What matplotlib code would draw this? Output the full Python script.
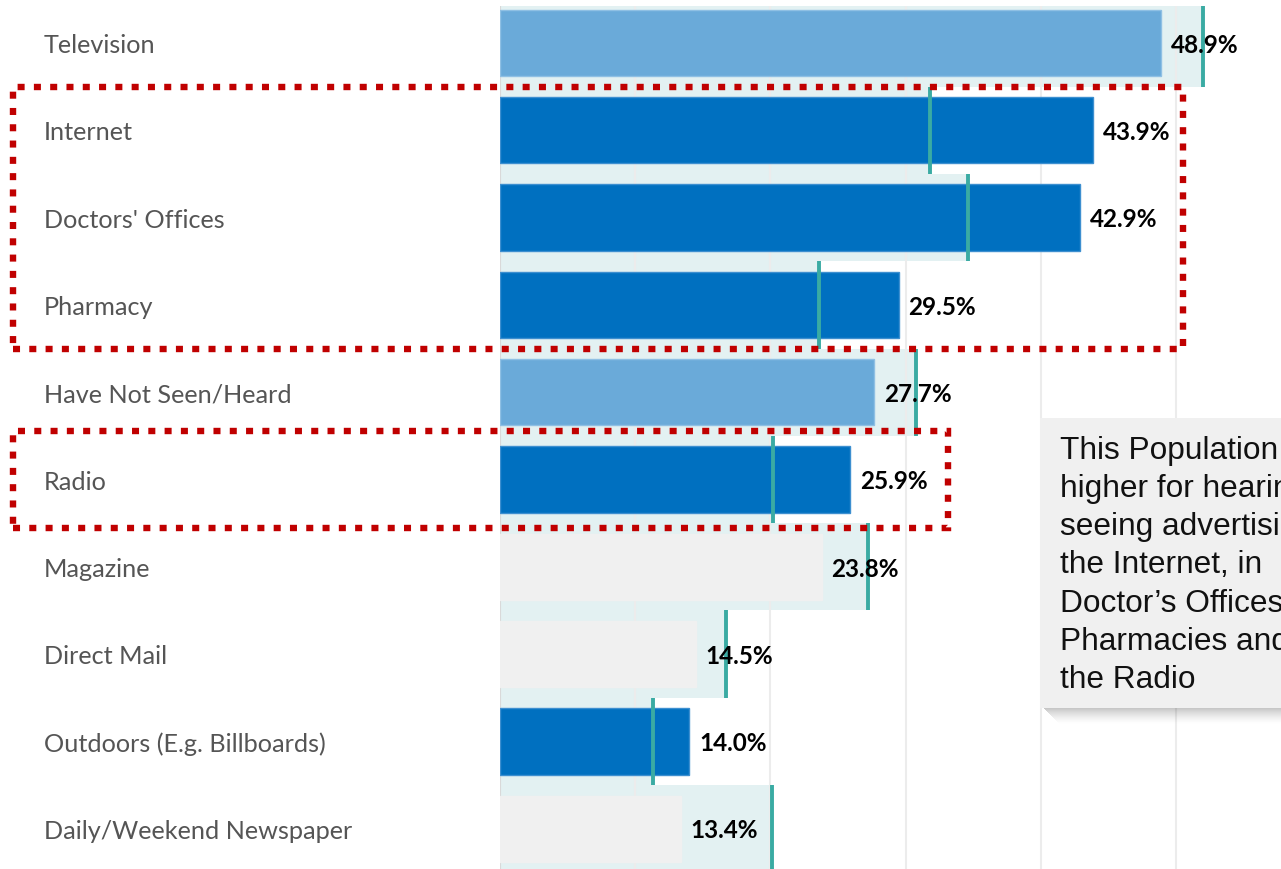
import matplotlib
matplotlib.use("Agg")
import matplotlib.pyplot as plt
import matplotlib.transforms as mtransforms
from matplotlib.patches import Rectangle

plt.rcParams.update({
    'font.family': 'Lato',
    'font.size': 17.5,
})

# Media channels, share recalling ads (%) and the comparison benchmark (%)
categories = ["Television", "Internet", "Doctors' Offices", "Pharmacy",
              "Have Not Seen/Heard", "Radio", "Magazine", "Direct Mail",
              "Outdoors (E.g. Billboards)", "Daily/Weekend Newspaper"]
values = [48.9, 43.9, 42.9, 29.5, 27.7, 25.9, 23.8, 14.5, 14.0, 13.4]
benchmark = [52.0, 31.8, 34.6, 23.6, 30.8, 20.2, 27.2, 16.7, 11.3, 20.1]
status = ["similar", "higher", "higher", "higher", "similar",
          "higher", "lower", "lower", "higher", "lower"]
gridticks = [10, 20, 30, 40, 50]
note_lines = ["This Population is", "higher for hearing or", "seeing advertising on",
              "the Internet, in", "Doctor\u2019s Offices,", "Pharmacies and", "the Radio"]

status_colors = {"similar": "#6aaad9", "higher": "#0070c0", "lower": "#f0f0f0"}
edge_colors = {"similar": "#8fc0e4", "higher": "#3d8fd0", "lower": "#f0f0f0"}
BAND = "#e3f1f2"
TEAL = "#3aaba3"
RED = "#c00000"

W, H = 1281, 870
fig = plt.figure(figsize=(W / 100, H / 100), dpi=100)

# axes spans from x=500px to the right edge; rows are 87.3px apart
ax = fig.add_axes([500 / W, 0, 1 - 500 / W, 1 - 7 / H])
ax.set_xlim(0, (W - 499.3) / 13.53)
ax.set_ylim((H - 44) / 87.3, -(44 - 7) / 87.3)
ax.axis('off')

ys = list(range(len(categories)))

# benchmark bands fill the whole row
ax.barh(ys, benchmark, height=1.0, color=BAND, zorder=1)
for g in gridticks:
    ax.axvline(g, color='#ececec', lw=1.5, zorder=2)
ax.axvline(0, color='#d9d9d9', lw=1.5, zorder=2)

ax.barh(ys, values, height=0.76, color=[status_colors[s] for s in status],
        edgecolor=[edge_colors[s] for s in status], linewidth=1, zorder=3)

ax.vlines(benchmark, [y - 0.5 for y in ys], [y + 0.5 for y in ys],
          color=TEAL, lw=2.8, zorder=4)

for y, v in zip(ys, values):
    ax.annotate(f"{v:.1f}%", xy=(v, y + 0.10), xytext=(7, 0), textcoords='offset points',
                ha='left', va='baseline', fontweight='bold', color='black',
                fontsize=17.5, zorder=5)

# category labels at the left edge of the figure
lab_tr = mtransforms.blended_transform_factory(fig.transFigure, ax.transData)
for y, c in zip(ys, categories):
    ax.text(44 / W, y + 0.105, c, transform=lab_tr, ha='left', va='baseline',
            color='#555555', fontsize=18.2)


def px_rect(x0, y0, x1, y1, **kw):
    # rectangle given in pixel coords measured from the top-left corner
    return Rectangle((x0 / W, 1 - y1 / H), (x1 - x0) / W, (y1 - y0) / H,
                     transform=fig.transFigure, **kw)


# dotted highlight boxes
for box in [(13, 88, 1183, 350), (13, 432, 948, 529)]:
    fig.patches.append(px_rect(*box, fill=False, edgecolor=RED, lw=4.6,
                               linestyle=(0, (1.1, 1.45)), capstyle='butt',
                               joinstyle='miter', zorder=10))

# callout box with a soft drop shadow underneath
for k in range(16):
    a = 0.22 * (1 - k / 16) ** 1.5
    fig.patches.append(px_rect(1044 + k, 709 + k, W + 20, 710 + k,
                               facecolor='black', alpha=a, edgecolor='none', zorder=11))
fig.patches.append(px_rect(1040, 419, W + 20, 709, facecolor='#f0f0f0',
                           edgecolor='none', zorder=12))
fig.text(1060 / W, 1 - 436 / H, "\n".join(note_lines), ha='left', va='top',
         family='Liberation Sans', fontsize=22.8, linespacing=1.355,
         color='#111111', zorder=13)

fig.savefig("out.png", dpi=100)
